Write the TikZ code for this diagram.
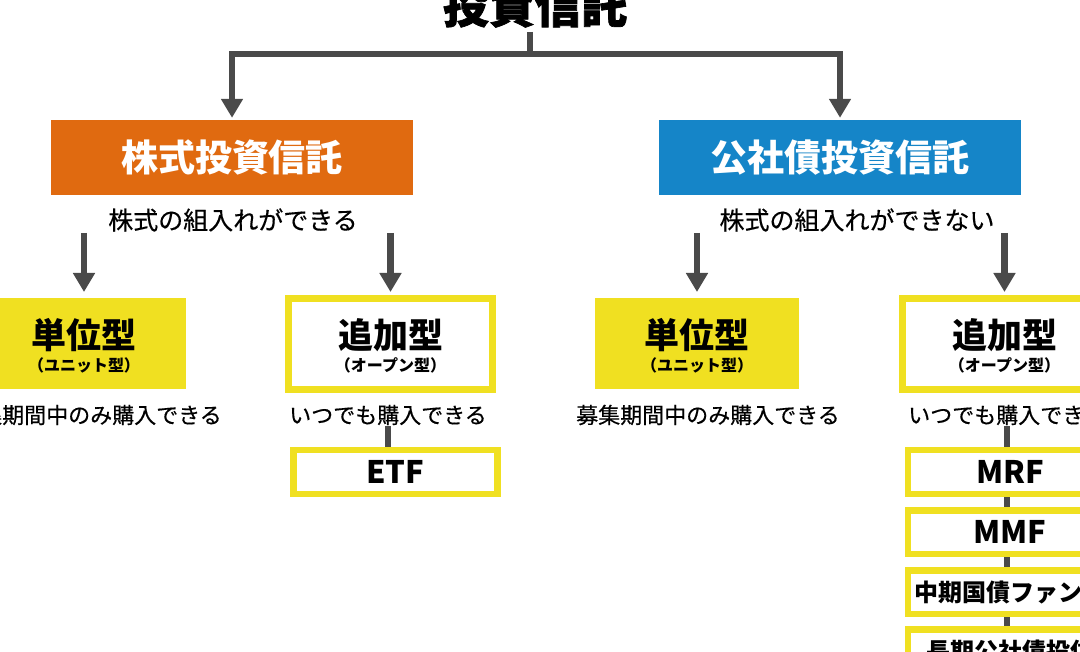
\documentclass[tikz,border=0pt]{standalone}
\usepackage{fontspec}
\setmainfont{Noto Sans CJK JP}
\newfontfamily\jpmed{Noto Sans CJK JP}[FakeBold=0.4]
\usepackage{tikz}
\usetikzlibrary{calc}
\usetikzlibrary{arrows.meta}

\definecolor{stockorange}{HTML}{E06A10}
\definecolor{bondblue}{HTML}{1585C8}
\definecolor{fundyellow}{HTML}{F0E021}
\definecolor{linegray}{HTML}{4A4A4A}

\begin{document}
\begin{tikzpicture}[x=1pt, y=-1pt, line join=miter, >={Triangle[width=21pt,length=19pt]}]
\tikzstyle{head}=[fill=stockorange, text=white, minimum width=362pt, minimum height=75pt, inner sep=0pt, font=\fontsize{37pt}{37pt}\selectfont\bfseries]
\tikzstyle{note}=[inner sep=1pt, font=\fontsize{22pt}{22pt}\selectfont\jpmed]
\tikzstyle{unitbox}=[fill=fundyellow, line width=7pt, minimum width=204pt, minimum height=91pt, inner sep=0pt, text height=20pt, text depth=11.4pt, font=\fontsize{35pt}{35pt}\selectfont\bfseries]
\tikzstyle{addbox}=[unitbox, fill=white, draw=fundyellow]
\tikzstyle{sub}=[inner sep=0pt, font=\fontsize{16pt}{16pt}\selectfont\bfseries]
\tikzstyle{fund}=[draw=fundyellow, fill=white, line width=6.5pt, minimum width=204pt, minimum height=43.5pt, inner sep=0pt, font=\fontsize{31pt}{31pt}\selectfont\bfseries]
\tikzstyle{link}=[line width=6.5pt, draw=linegray]
\useasboundingbox (0,0) rectangle (1080,652);
\clip (0,0) rectangle (1080,652);

\node[anchor=base, inner sep=0pt, font=\fontsize{46pt}{46pt}\selectfont\bfseries\addfontfeatures{FakeBold=1.5}] (title) at (535,23) {投資信託};
\coordinate (split) at (530,54);

\node[head] (stock) at (232,157.5) {株式投資信託};
\node[head, fill=bondblue] (bond) at (840,157.5) {公社債投資信託};
\node[note, font=\fontsize{25pt}{25pt}\selectfont\jpmed] (stockNote) at (233,220) {株式の組入れができる};
\node[note, font=\fontsize{25pt}{25pt}\selectfont\jpmed] (bondNote) at (857,220) {株式の組入れができない};

\node[unitbox] (unitA) at (84,344) {単位型};
\node[sub] (unitAsub) at ([yshift=-21pt]unitA.center) {（ユニット型）};
\node[addbox] (addA) at (390.5,344) {追加型};
\node[sub] (addAsub) at ([yshift=-21pt]addA.center) {（オープン型）};
\node[unitbox] (unitB) at (697,344) {単位型};
\node[sub] (unitBsub) at ([yshift=-21pt]unitB.center) {（ユニット型）};
\node[addbox] (addB) at (1004.5,344) {追加型};
\node[sub] (addBsub) at ([yshift=-21pt]addB.center) {（オープン型）};

\node[note] (unitAnote) at (90,415) {募集期間中のみ購入できる};
\node[note] (addAnote) at (388,415) {いつでも購入できる};
\node[note] (unitBnote) at (708,415) {募集期間中のみ購入できる};
\node[note] (addBnote) at (1007,415) {いつでも購入できる};

\node[fund] (etf) at (395.5,472) {ETF};
\node[fund] (mrf) at (1010,472) {MRF};
\node[fund] (mmf) at (1010,532) {MMF};
\node[fund, font=\fontsize{24pt}{24pt}\selectfont\bfseries] (midterm) at (1010,592) {中期国債ファンド};
\node[fund, font=\fontsize{24pt}{24pt}\selectfont\bfseries] (longterm) at (1010,651) {長期公社債投信};

\draw[link, shorten <=4pt] (title.south -| split) -- (split);
\draw[link, ->, shorten >=2pt] (split) -| (stock.north);
\draw[link, ->, shorten >=2pt] (split) -| (bond.north);

\draw[link, ->, shorten >=3pt] (stockNote.south -| unitA.north) -- (unitA.north);
\draw[link, ->, shorten >=3pt] (stockNote.south -| addA.north) -- (addA.north);
\draw[link, ->, shorten >=3pt] (bondNote.south -| unitB.north) -- (unitB.north);
\draw[link, ->, shorten >=3pt] (bondNote.south -| addB.north) -- (addB.north);

\draw[link] (addAnote.south) -- (addAnote.south |- etf.north);
\draw[link] (addBnote.south) -- (addBnote.south |- mrf.north);
\draw[link] (mrf.south -| addBnote.south) -- (mmf.north -| addBnote.south);
\draw[link] (mmf.south -| addBnote.south) -- (midterm.north -| addBnote.south);
\draw[link] (midterm.south -| addBnote.south) -- (longterm.north -| addBnote.south);
%\draw (split) circle (3pt);
\end{tikzpicture}
\end{document}
